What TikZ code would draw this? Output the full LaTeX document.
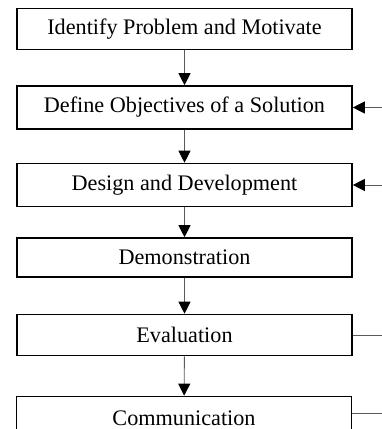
\documentclass[tikz,border=0pt]{standalone}
\usepackage{fontspec}
\setmainfont{Liberation Serif}
\usetikzlibrary{arrows.meta}
\begin{document}
\begin{tikzpicture}[x=1pt,y=1pt,
  stepbox/.style={draw=black,line width=1.6pt,fill=white,minimum width=335pt,minimum height=41pt,
    inner sep=0pt,font=\fontsize{22.2}{26}\selectfont},
  flow/.style={draw=lineColor,line width=0.9pt,-{Triangle[length=12pt,width=12pt,color=black]}},
  feed/.style={draw=lineColor,line width=0.9pt}]
\definecolor{lineColor}{RGB}{90,90,90}
\useasboundingbox (0,0) rectangle (382,429);
\clip (0,0) rectangle (382,429);

\node[stepbox] (identify) at (184.5,400.0) {Identify Problem and Motivate};
\node[stepbox,minimum height=43pt] (objectives) at (184.5,321.5) {Define Objectives of a Solution};
\node[stepbox,minimum height=43pt] (design) at (184.5,244.0) {Design and Development};
\node[stepbox,minimum height=39pt] (demo) at (184.5,171.5) {Demonstration};
\node[stepbox] (evaluation) at (184.5, 94.0) {Evaluation};
\node[stepbox,minimum height=43pt] (communication) at (184.0, 11.0) {Communication};

\draw[flow] (identify) -- (objectives);
\draw[flow] (objectives) -- (design);
\draw[flow] (design) -- (demo);
\draw[flow] (demo) -- (evaluation);
\draw[flow] (evaluation) -- (communication);

\coordinate (objin) at (384,321.5);
\coordinate (desin) at (384,244.0);
\coordinate (evalout) at (384, 94.0);
\coordinate (commout) at (384, 16.0);

\draw[flow] (objin) -- (objectives.east |- objin);
\draw[flow] (desin) -- (design.east |- desin);
\draw[feed] (evaluation.east |- evalout) -- (evalout);
\draw[feed] (communication.east |- commout) -- (commout);
\end{tikzpicture}
\end{document}
